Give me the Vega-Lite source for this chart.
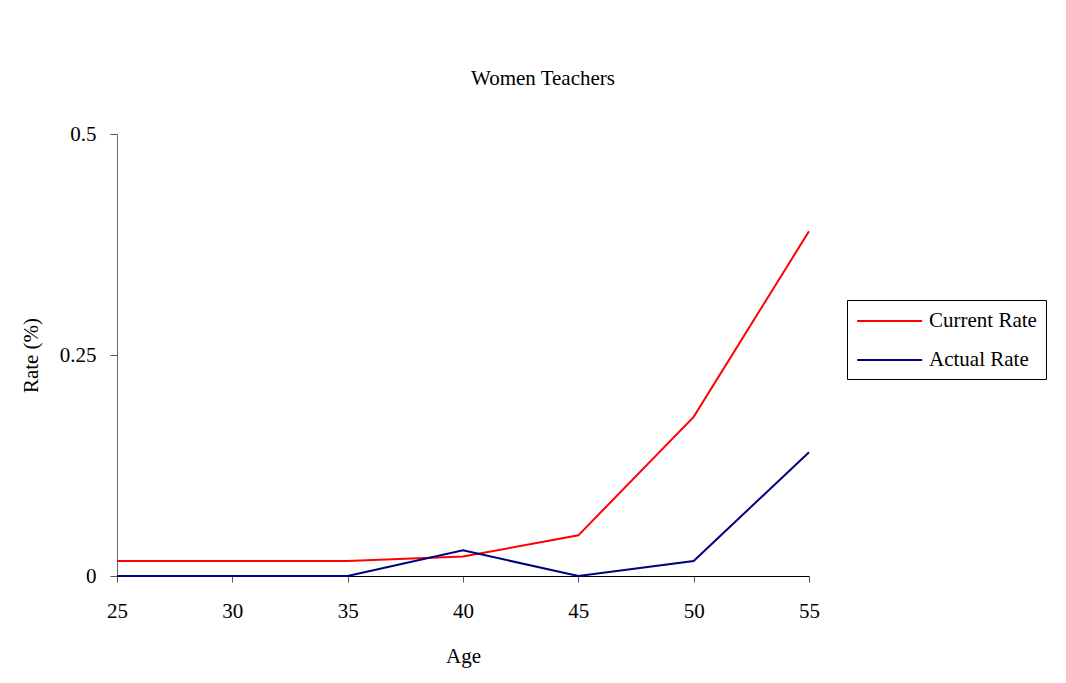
{
  "$schema": "https://vega.github.io/schema/vega-lite/v6.json",
  "width": 692,
  "height": 442,
  "autosize": {"type": "none"},
  "padding": {"left": 117, "top": 134, "right": 257, "bottom": 107},
  "background": "white",
  "title": {"text": "Women Teachers", "font": "Liberation Serif", "fontSize": 21, "fontWeight": "normal", "color": "black", "anchor": "middle", "dx": 80, "offset": 34},
  "data": {"values": [
    {"age": 25, "series": "Current Rate", "rate": 0.017},
    {"age": 30, "series": "Current Rate", "rate": 0.017},
    {"age": 35, "series": "Current Rate", "rate": 0.017},
    {"age": 40, "series": "Current Rate", "rate": 0.022},
    {"age": 45, "series": "Current Rate", "rate": 0.046},
    {"age": 50, "series": "Current Rate", "rate": 0.18},
    {"age": 55, "series": "Current Rate", "rate": 0.39},
    {"age": 25, "series": "Actual Rate", "rate": 0},
    {"age": 30, "series": "Actual Rate", "rate": 0},
    {"age": 35, "series": "Actual Rate", "rate": 0},
    {"age": 40, "series": "Actual Rate", "rate": 0.029},
    {"age": 45, "series": "Actual Rate", "rate": 0},
    {"age": 50, "series": "Actual Rate", "rate": 0.017},
    {"age": 55, "series": "Actual Rate", "rate": 0.14}
  ]},
  "mark": {"type": "line", "strokeWidth": 2},
  "encoding": {
    "x": {"field": "age", "type": "quantitative", "title": "Age",
      "scale": {"domain": [25, 55], "nice": false, "zero": false},
      "axis": {"values": [25, 30, 35, 40, 45, 50, 55], "grid": false, "domainColor": "black", "tickColor": "#555", "tickSize": 6,
        "labelFont": "Liberation Serif", "labelFontSize": 21, "labelColor": "black", "labelPadding": 18, "labelFlush": false,
        "titleFont": "Liberation Serif", "titleFontSize": 21, "titleFontWeight": "normal", "titleColor": "black", "titlePadding": 24}},
    "y": {"field": "rate", "type": "quantitative", "title": "Rate (%)",
      "scale": {"domain": [0, 0.5], "nice": false},
      "axis": {"values": [0, 0.25, 0.5], "format": ".2~f", "grid": false, "domainColor": "#666", "tickColor": "#555", "tickSize": 7,
        "labelFont": "Liberation Serif", "labelFontSize": 21, "labelColor": "black", "labelPadding": 14, "labelFlush": false,
        "titleFont": "Liberation Serif", "titleFontSize": 21, "titleFontWeight": "normal", "titleColor": "black", "titlePadding": 18}},
    "color": {"field": "series", "type": "nominal",
      "scale": {"domain": ["Current Rate", "Actual Rate"], "range": ["#FF0000", "#000080"]},
      "legend": {"title": null, "orient": "none", "legendX": 730, "legendY": 166,
        "strokeColor": "black", "fillColor": "white", "padding": 9,
        "symbolType": "M-1,0H5", "symbolSize": 469, "symbolStrokeWidth": 2,
        "labelFont": "Liberation Serif", "labelFontSize": 21, "labelColor": "black", "labelOffset": 49, "rowPadding": 17}}
  },
  "config": {"view": {"stroke": null}}
}
